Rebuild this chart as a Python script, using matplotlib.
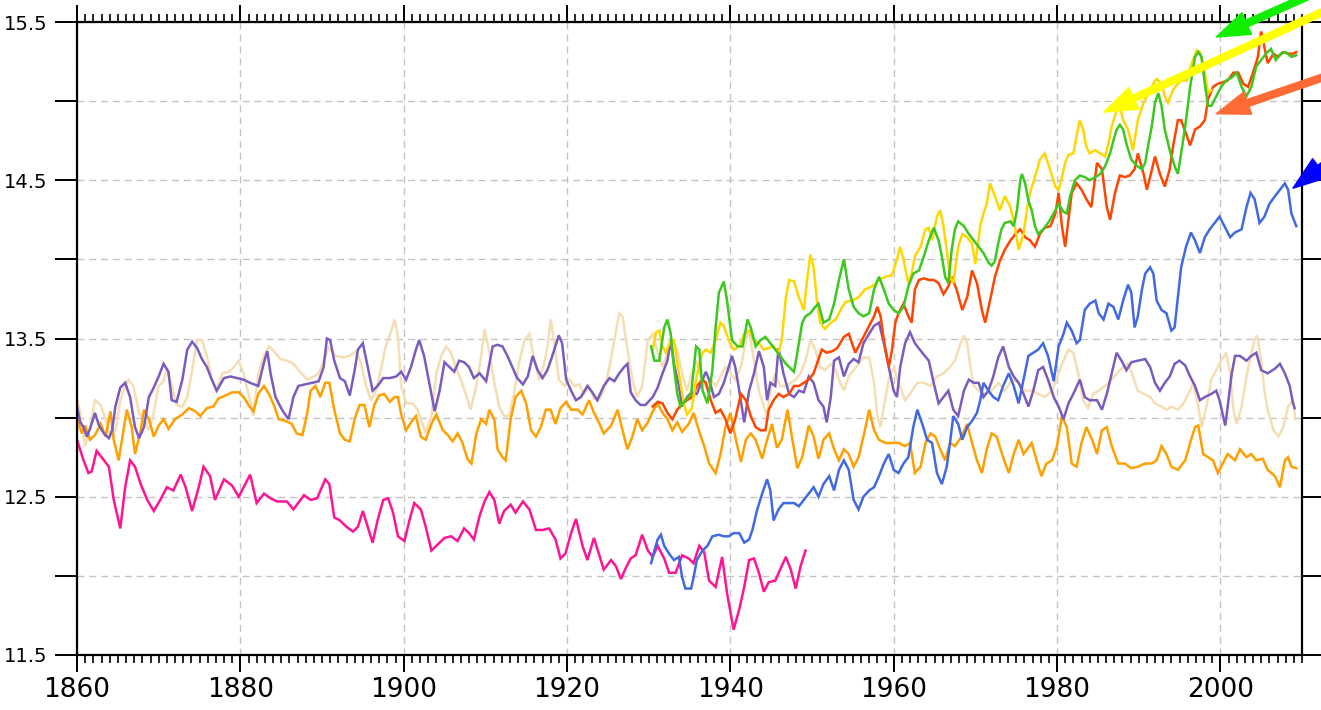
import matplotlib
matplotlib.use("Agg")
import matplotlib.pyplot as plt
from matplotlib.ticker import MultipleLocator, FixedLocator

# ---------------- data ----------------
pink_years = [1860.0,1860.8,1861.4,1861.8,1862.4,1863.3,1863.9,1864.5,1865.3,1865.9,1866.5,1867.1,1867.8,1868.6,1869.4,1870.2,1871.0,1871.8,1872.7,1873.3,1874.1,1874.9,1875.5,1876.3,1876.9,1878.0,1879.0,1879.8,1880.4,1881.2,1882.0,1882.9,1883.7,1884.5,1885.7,1886.5,1887.8,1888.6,1889.4,1890.4,1890.9,1891.5,
              1892.2,1893.0,1893.8,1894.4,1895.0,1895.6,1896.2,1896.8,1897.5,1898.1,1898.7,1899.3,1900.1,1900.7,1901.3,1902.1,1902.7,1903.4,1904.2,1905.0,1905.8,1906.6,1907.4,1908.0,1908.6,1909.3,1909.9,1910.5,1911.1,1911.7,1912.3,1913.1,1913.7,1914.6,1915.4,1916.2,1917.0,1917.8,1918.6,1919.2,1919.8,1920.5,1921.1,1921.9,1922.5,1923.3,
              1923.9,1924.5,1925.4,1926.0,1926.6,1927.2,1927.8,1928.4,1929.2,1929.9,1930.5,1931.1,1931.9,1932.5,1933.3,1934.1,1934.9,1935.5,1936.2,1936.8,1937.4,1938.2,1939.0,1939.6,1940.4,1941.1,1941.7,1942.3,1942.9,1943.5,1944.1,1944.7,1945.5,1946.1,1946.8,1947.4,1948.0,1948.6,1949.2]
pink_vals = [12.86,12.73,12.65,12.66,12.79,12.73,12.69,12.48,12.30,12.56,12.73,12.69,12.58,12.48,12.41,12.48,12.56,12.54,12.64,12.56,12.41,12.56,12.69,12.63,12.48,12.61,12.57,12.50,12.56,12.64,12.46,12.52,12.49,12.47,12.47,12.42,12.51,12.48,12.49,12.61,12.58,12.37,
             12.35,12.31,12.28,12.31,12.41,12.31,12.21,12.35,12.48,12.49,12.40,12.25,12.22,12.35,12.46,12.42,12.31,12.16,12.20,12.24,12.25,12.22,12.30,12.27,12.23,12.38,12.47,12.53,12.48,12.33,12.41,12.45,12.40,12.47,12.42,12.29,12.29,12.30,12.23,12.11,12.14,12.27,12.36,12.19,12.10,12.24,
             12.14,12.04,12.10,12.06,11.98,12.05,12.11,12.13,12.26,12.16,12.12,12.19,12.11,12.02,12.02,12.13,12.11,12.08,12.19,12.15,11.97,11.93,12.12,11.89,11.66,11.79,11.93,12.10,12.11,12.02,11.90,11.96,11.97,12.04,12.12,12.04,11.92,12.06,12.16]

orange_years = [1860.0,1860.6,1861.0,1861.6,1862.2,1862.9,1863.5,1864.1,1864.5,1865.1,1865.7,1866.1,1866.7,1867.1,1867.8,1868.2,1868.8,1869.4,1870.0,1870.6,1871.2,1872.0,1872.9,1873.7,1874.5,1875.1,1875.9,1876.7,1877.3,1878.2,1879.0,1879.8,1880.4,1881.0,1881.6,1882.2,1882.9,1883.5,1884.1,1884.7,1885.5,1886.3,1886.9,1887.6,1888.2,1888.6,1889.2,1889.8,1890.4,
                1890.9,1891.5,1892.2,1892.8,1893.4,1894.0,1894.6,1895.2,1895.8,1896.4,1897.0,1897.6,1898.3,1898.9,1899.3,1899.7,1900.3,1900.9,1901.5,1902.1,1902.7,1903.4,1904.0,1904.8,1905.4,1906.0,1906.6,1907.2,1907.8,1908.3,1908.9,1909.5,1910.1,1910.5,1911.1,1911.5,1912.1,1912.5,1913.1,1913.7,1914.4,1915.0,1915.6,1916.2,1916.8,1917.4,1918.0,1918.6,1919.2,1919.9,1920.5,1921.3,1921.9,1922.7,1923.3,
                1923.9,1924.5,1925.4,1926.2,1926.8,1927.4,1928.0,1928.6,1929.2,1929.9,1930.5,1931.1,1931.7,1932.3,1932.9,1933.5,1934.1,1934.9,1935.5,1936.2,1936.8,1937.4,1938.2,1938.8,1939.4,1940.0,1940.6,1941.3,1941.9,1942.5,1943.1,1943.9,1944.5,1945.1,1945.7,1946.3,1947.0,1947.6,1948.2,1948.8,1949.6,1950.2,1950.8,1951.4,1952.1,1952.7,
                1953.3,1953.9,1954.5,1955.1,1955.7,1956.3,1957.0,1957.6,1958.2,1959.0,1959.8,1960.6,1961.4,1962.0,1962.6,1963.3,1963.9,1964.5,1965.1,1965.7,1966.3,1966.9,1967.5,1968.3,1969.0,1969.6,1970.2,1970.8,1971.4,1972.0,1972.6,
                1973.4,1974.1,1974.7,1975.3,1975.9,1976.9,1977.5,1978.1,1978.7,1979.4,1980.0,1980.6,1981.2,1981.8,1982.4,1983.0,1983.6,1984.3,1984.9,1985.5,1986.1,1986.7,1987.5,1988.3,1989.1,1989.9,1990.8,1991.6,1992.2,1992.8,1993.4,1994.0,1994.8,1995.7,1996.3,1996.9,1997.3,1997.9,1998.5,1999.1,1999.7,2000.3,2000.9,2001.8,2002.4,2003.2,2003.8,2004.4,2005.2,2005.8,2006.7,2007.3,2007.9,2008.3,2008.7,2009.3]
orange_vals = [12.99,12.90,12.95,12.86,12.89,12.96,12.88,13.04,12.86,12.73,12.92,13.05,12.94,12.77,12.92,13.05,12.99,12.88,12.95,12.99,12.93,12.99,13.02,13.06,13.04,13.01,13.06,13.07,13.12,13.14,13.16,13.16,13.13,13.08,13.04,13.15,13.20,13.15,13.08,12.99,12.98,12.96,12.90,12.89,13.03,13.17,13.20,13.13,13.22,
               13.22,13.05,12.90,12.86,12.85,12.99,13.08,13.08,12.94,13.08,13.14,13.15,13.10,13.13,13.13,13.02,12.92,12.97,13.01,12.88,12.86,12.96,13.02,12.92,12.89,12.85,12.90,12.84,12.74,12.71,12.90,12.99,12.96,13.05,12.99,12.80,12.75,12.73,12.99,13.13,13.17,13.09,12.92,12.88,12.94,13.05,13.05,12.96,13.06,13.10,13.05,13.05,13.02,13.11,13.03,
               12.97,12.90,12.95,13.05,12.92,12.80,12.88,12.99,12.92,12.97,13.04,13.09,13.03,12.99,12.92,12.97,12.91,12.96,13.03,12.91,12.82,12.71,12.65,12.77,12.94,13.03,12.88,12.72,12.86,12.90,12.86,12.74,12.86,12.96,12.81,12.86,13.05,12.86,12.68,12.75,12.95,12.88,12.74,12.86,12.90,12.80,
               12.73,12.80,12.77,12.69,12.75,12.88,13.05,12.92,12.86,12.84,12.84,12.84,12.82,12.84,12.65,12.69,12.84,12.90,12.88,12.80,12.73,12.84,12.82,12.88,12.96,12.84,12.73,12.65,12.80,12.90,12.88,
               12.75,12.65,12.77,12.86,12.77,12.84,12.73,12.63,12.71,12.73,12.82,13.01,12.94,12.71,12.69,12.84,12.94,12.86,12.77,12.92,12.94,12.82,12.71,12.71,12.68,12.69,12.71,12.71,12.73,12.82,12.77,12.69,12.67,12.73,12.84,12.94,12.95,12.77,12.75,12.73,12.65,12.71,12.77,12.73,12.80,12.75,12.77,12.73,12.74,12.67,12.63,12.56,12.73,12.75,12.69,12.68]

purple_years = [1860.0,1860.4,1860.8,1861.2,1861.6,1862.2,1862.7,1863.3,1863.9,1864.3,1864.7,1865.3,1865.9,1866.5,1867.1,1867.6,1868.2,1868.8,1869.4,1870.0,1870.6,1871.2,1871.6,1872.2,1872.9,1873.5,1874.1,1874.7,1875.3,1875.9,1876.5,1877.1,1878.0,1878.8,1879.6,1880.4,1881.2,1882.2,1882.9,1883.3,1883.7,1884.3,1885.1,1885.9,1886.5,1887.1,1887.9,1888.8,1889.6,1890.2,1890.6,
                1891.0,1891.5,1892.2,1892.8,1893.4,1894.0,1894.4,1895.0,1895.6,1896.2,1896.8,1897.5,1898.3,1899.1,1899.7,1900.3,1900.9,1901.5,1901.9,1902.5,1903.2,1903.8,1904.4,1905.0,1905.6,1906.2,1906.8,1907.4,1908.0,1908.6,1909.3,1910.1,1910.9,1911.5,1912.1,1912.7,1913.3,1913.9,1914.6,1915.2,1915.8,1916.4,1917.0,1917.6,1918.2,1919.0,1919.4,1919.9,1920.5,1921.1,1921.7,1922.5,1923.1,1923.7,
                1924.5,1925.2,1925.8,1926.4,1927.0,1927.4,1927.8,1928.4,1929.0,1929.6,1930.5,1931.1,1931.7,1932.3,1932.7,1933.1,1933.7,1934.1,1934.7,1935.3,1935.9,1936.6,1937.0,1937.4,1938.0,1938.6,1939.2,1939.8,1940.2,1940.6,1941.0,1941.7,1942.3,1942.9,1943.5,1944.1,1944.5,1944.9,1945.5,1945.9,1946.5,1947.2,1947.8,1948.4,1949.0,1949.6,1950.2,1950.8,1951.4,1951.8,1952.3,1952.7,
                1953.3,1953.9,1954.5,1955.1,1955.7,1956.3,1957.0,1957.6,1958.2,1958.8,1959.4,1960.0,1960.4,1960.8,1961.4,1962.0,1962.6,1963.5,1964.3,1964.9,1965.5,1966.1,1966.7,1967.3,1967.9,1968.6,1969.2,1969.8,1970.4,1971.0,1971.6,1972.2,1972.8,
                1973.4,1974.1,1974.7,1975.3,1975.9,1976.5,1977.1,1977.7,1978.3,1978.9,1979.6,1980.2,1980.8,1981.4,1982.0,1982.8,1983.4,1984.0,1984.9,1985.5,1986.1,1986.7,1987.3,1987.9,1988.5,1989.1,1989.9,1990.8,1991.4,1992.0,1992.6,1993.2,1993.8,1994.4,1995.0,1995.7,1996.3,1996.9,1997.5,1998.1,1998.9,1999.5,1999.9,2000.6,2000.9,2001.4,2001.8,2002.4,2003.2,2003.8,2004.4,2005.0,2005.8,2006.7,2007.3,2007.9,2008.5,2008.9,2009.1]
purple_vals = [13.07,12.97,12.94,12.88,12.93,13.03,12.95,12.90,12.87,12.92,13.07,13.19,13.22,13.13,12.94,12.87,12.94,13.13,13.19,13.26,13.34,13.29,13.11,13.10,13.24,13.43,13.48,13.44,13.37,13.32,13.24,13.17,13.25,13.26,13.25,13.24,13.22,13.20,13.35,13.42,13.28,13.13,13.05,12.99,13.13,13.20,13.21,13.22,13.23,13.32,13.50,
               13.49,13.36,13.25,13.23,13.14,13.30,13.43,13.47,13.32,13.17,13.20,13.25,13.25,13.26,13.29,13.24,13.32,13.43,13.49,13.39,13.20,13.04,13.17,13.35,13.32,13.29,13.36,13.35,13.32,13.25,13.28,13.23,13.45,13.46,13.45,13.39,13.32,13.25,13.21,13.26,13.39,13.30,13.25,13.30,13.39,13.52,13.47,13.24,13.17,13.11,13.13,13.20,13.16,13.11,
               13.20,13.25,13.23,13.28,13.32,13.34,13.16,13.11,13.08,13.08,13.13,13.19,13.28,13.36,13.49,13.34,13.20,13.07,13.13,13.16,13.15,13.24,13.29,13.24,13.13,13.15,13.22,13.32,13.39,13.32,13.20,12.97,13.17,13.28,13.42,13.32,13.11,13.22,13.20,13.44,13.28,13.15,13.13,13.17,13.16,13.26,13.22,13.11,13.07,12.97,13.13,13.36,
               13.38,13.26,13.34,13.37,13.35,13.47,13.53,13.58,13.60,13.47,13.32,13.17,13.13,13.32,13.47,13.54,13.47,13.41,13.36,13.22,13.09,13.13,13.17,13.05,13.01,13.17,13.24,13.22,13.22,13.13,13.17,13.26,13.38,
               13.45,13.32,13.26,13.22,13.15,13.07,13.17,13.30,13.32,13.24,13.13,13.07,12.99,13.09,13.15,13.24,13.13,13.11,13.11,13.05,13.15,13.28,13.41,13.36,13.30,13.35,13.36,13.37,13.32,13.22,13.17,13.22,13.26,13.34,13.36,13.33,13.26,13.20,13.11,13.13,13.15,13.17,13.11,12.95,13.07,13.28,13.39,13.39,13.36,13.39,13.41,13.30,13.28,13.31,13.34,13.28,13.20,13.09,13.06]

wheat_years = [1860.0,1860.4,1861.0,1861.6,1862.2,1862.9,1863.5,1864.1,1864.7,1865.3,1865.9,1866.3,1866.9,1867.6,1868.2,1868.8,1869.4,1870.0,1870.6,1871.0,1871.6,1872.2,1872.9,1873.5,1874.1,1874.7,1875.3,1875.9,1876.5,1877.1,1877.8,1878.6,1879.2,1879.8,1880.4,1881.0,1881.6,1882.2,1882.9,1883.5,1884.1,1884.9,1885.7,1886.5,1887.3,1888.2,1889.0,1889.6,1890.2,1890.8,
               1891.7,1892.6,1893.4,1894.2,1894.8,1895.4,1896.0,1896.6,1897.2,1897.8,1898.5,1898.9,1899.3,1899.7,1900.3,1901.1,1901.7,1902.3,1902.7,1903.4,1904.0,1904.6,1905.2,1905.8,1906.4,1907.0,1907.6,1908.2,1908.9,1909.5,1909.9,1910.5,1911.1,1911.7,1912.3,1912.9,1913.5,1914.1,1914.8,1915.4,1916.0,1916.6,1917.2,1917.6,1918.0,1918.4,1919.0,1919.7,1920.3,1920.9,1921.5,1922.1,1922.7,1923.3,
               1923.9,1924.5,1925.2,1925.8,1926.4,1926.8,1927.4,1928.0,1928.6,1929.2,1929.9,1930.5,1931.1,1931.7,1932.3,1932.9,1933.5,1934.1,1934.7,1935.3,1935.9,1936.4,1937.0,1937.6,1938.2,1938.8,1939.4,1940.0,1940.6,1941.3,1941.9,1942.3,1942.9,1943.5,1944.1,1944.5,1944.9,1945.5,1946.1,1946.8,1947.4,1948.0,1948.6,1949.2,1949.8,1950.4,1951.0,1951.6,1952.3,1952.9,
               1953.3,1953.9,1954.5,1955.1,1955.7,1956.3,1957.0,1957.6,1958.0,1958.4,1958.8,1959.4,1960.0,1960.6,1961.4,1962.0,1962.9,1963.7,1964.5,1965.3,1966.1,1966.9,1967.5,1968.2,1968.6,1969.0,1969.4,1969.8,1970.4,1971.2,1972.0,1972.8,1973.6,1974.5,1975.3,1976.1,1976.9,1977.7,1978.5,1979.4,
               1980.2,1980.8,1981.4,1982.0,1982.6,1983.2,1983.8,1984.4,1985.1,1985.9,1986.7,1987.5,1988.1,1988.7,1989.3,1989.9,1990.6,1991.4,1992.0,1992.8,1993.4,1994.0,1994.8,1995.5,1996.1,1996.7,1997.3,1997.7,1998.3,1998.9,1999.5,2000.1,2000.7,2001.2,2001.6,2002.0,2002.6,2003.2,2003.8,2004.2,2004.5,2005.0,2005.4,2005.8,2006.5,2007.1,2007.7,2008.3,2008.9,2009.2]
wheat_vals = [13.12,13.03,12.82,12.94,13.11,13.08,12.99,12.88,12.92,13.11,13.20,13.24,13.20,13.03,12.99,12.92,13.03,13.20,13.23,13.30,13.20,13.08,13.07,13.13,13.30,13.49,13.49,13.39,13.25,13.17,13.28,13.29,13.32,13.36,13.28,13.15,13.01,13.28,13.39,13.45,13.42,13.37,13.36,13.34,13.29,13.24,13.26,13.28,13.36,13.44,
              13.39,13.38,13.39,13.42,13.34,13.20,13.11,13.17,13.30,13.45,13.55,13.62,13.51,13.20,13.09,13.09,13.05,12.96,12.90,13.01,13.28,13.39,13.45,13.41,13.32,13.24,13.15,13.05,13.20,13.39,13.56,13.41,13.22,13.07,13.01,13.01,13.15,13.34,13.49,13.53,13.36,13.24,13.34,13.45,13.62,13.49,13.24,13.20,13.24,13.20,13.21,13.15,13.20,13.12,
              13.11,13.17,13.32,13.49,13.66,13.64,13.43,13.24,13.13,13.20,13.49,13.53,13.41,13.32,13.41,13.49,13.43,13.28,13.17,13.28,13.36,13.24,13.20,13.24,13.20,13.26,13.32,13.28,13.24,13.32,13.49,13.55,13.36,13.17,13.07,13.01,13.17,13.28,13.20,13.20,13.22,13.24,13.28,13.36,13.49,13.43,13.32,13.30,13.34,13.30,
              13.24,13.17,13.26,13.30,13.34,13.38,13.38,13.22,13.01,12.94,13.07,13.24,13.32,13.22,13.11,13.15,13.22,13.22,13.20,13.26,13.28,13.32,13.36,13.47,13.52,13.47,13.32,13.20,13.17,13.15,13.17,13.22,13.17,13.24,13.22,13.17,13.17,13.15,13.13,13.17,
              13.28,13.36,13.43,13.41,13.28,13.11,13.06,13.15,13.17,13.20,13.24,13.29,13.32,13.34,13.26,13.17,13.15,13.13,13.09,13.07,13.05,13.07,13.05,13.09,13.15,13.22,13.07,12.94,13.07,13.24,13.30,13.36,13.41,13.28,13.05,12.96,13.07,13.26,13.41,13.49,13.52,13.36,13.17,13.05,12.92,12.88,12.94,13.07,13.11,12.99]

blue_years = [1930.3,1930.7,1931.1,1931.5,1931.9,1932.5,1933.1,1933.7,1934.1,1934.5,1935.2,1935.5,1935.9,1936.6,1937.2,1937.8,1938.6,1939.2,1939.8,1940.4,1941.1,1941.7,1942.3,1942.7,1943.3,1943.9,1944.5,1944.9,1945.3,1945.9,1946.5,1947.2,1947.8,1948.4,1949.0,1949.6,1950.2,1950.8,1951.4,1952.1,1952.7,
              1953.3,1953.9,1954.5,1955.1,1955.7,1956.3,1957.0,1957.6,1958.2,1958.8,1959.4,1960.0,1960.6,1961.2,1961.8,1962.4,1962.9,1963.5,1964.1,1964.7,1965.3,1965.9,1966.5,1966.9,1967.3,1967.9,1968.4,1969.0,1969.6,1970.2,1970.6,1971.0,1971.6,1972.2,
              1972.8,1973.4,1974.1,1974.7,1975.3,1975.9,1976.5,1977.1,1977.7,1978.3,1978.9,1979.6,1980.2,1980.8,1981.2,1981.8,1982.4,1982.8,1983.4,1984.0,1984.7,1985.1,1985.7,1986.3,1986.9,1987.5,1988.1,1988.7,1989.1,1989.5,1989.9,1990.4,1990.8,1991.4,1991.8,1992.2,1992.8,1993.4,1994.0,1994.4,1994.8,1995.2,
              1995.8,1996.4,1996.9,1997.5,1998.1,1998.7,1999.3,1999.9,2000.5,2001.2,2001.8,2002.6,2003.2,2003.7,2004.2,2004.8,2005.4,2006.0,2006.7,2007.3,2007.9,2008.3,2008.7,2009.3]
blue_vals = [12.08,12.16,12.23,12.26,12.19,12.14,12.10,12.12,11.99,11.92,11.92,11.99,12.10,12.16,12.19,12.25,12.26,12.25,12.25,12.27,12.27,12.21,12.23,12.29,12.42,12.52,12.61,12.54,12.35,12.42,12.46,12.46,12.46,12.44,12.48,12.52,12.56,12.50,12.58,12.63,12.54,
             12.67,12.73,12.67,12.48,12.42,12.50,12.54,12.56,12.63,12.71,12.77,12.67,12.65,12.71,12.75,12.94,13.05,12.96,12.86,12.84,12.65,12.58,12.69,12.84,13.01,12.96,12.86,12.94,12.98,13.03,13.11,13.22,13.17,13.13,
             13.11,13.20,13.28,13.20,13.09,13.24,13.39,13.41,13.43,13.47,13.39,13.23,13.45,13.53,13.60,13.55,13.47,13.49,13.68,13.72,13.74,13.66,13.62,13.72,13.70,13.62,13.74,13.84,13.79,13.57,13.64,13.81,13.91,13.95,13.91,13.74,13.68,13.66,13.55,13.57,13.76,13.95,
             14.08,14.17,14.12,14.04,14.14,14.19,14.23,14.27,14.21,14.14,14.17,14.19,14.33,14.42,14.38,14.23,14.27,14.35,14.40,14.44,14.48,14.44,14.29,14.21]

red_years = [1930.5,1931.1,1931.7,1932.3,1932.9,1933.5,1934.1,1934.7,1935.3,1935.9,1936.6,1937.0,1937.6,1938.2,1938.8,1939.4,1940.0,1940.6,1941.3,1941.9,1942.5,1943.1,1943.7,1944.3,1944.7,1945.3,1945.9,1946.5,1947.2,1947.8,1948.4,1949.0,1949.6,1950.2,1950.6,1951.2,1951.8,1952.5,1953.1,
             1953.9,1954.5,1954.9,1955.3,1955.7,1956.3,1957.0,1957.6,1958.0,1958.4,1958.8,1959.4,1959.8,1960.2,1960.6,1961.2,1961.8,1962.2,1962.6,1963.1,1963.7,1964.3,1964.9,1965.5,1966.1,1966.7,1967.1,1967.7,1968.4,1969.0,1969.6,1970.2,1970.8,1971.2,1971.8,1972.4,1973.0,1973.6,1974.3,1974.9,1975.5,1976.1,1976.7,1977.3,1977.9,1978.5,1979.2,1979.8,
             1980.2,1980.6,1981.0,1981.4,1981.8,1982.4,1983.0,1983.6,1984.2,1984.9,1985.5,1986.1,1986.5,1987.1,1987.7,1988.3,1988.9,1989.5,1989.9,1990.6,1991.0,1991.4,1992.0,1992.6,1993.2,1993.8,1994.2,1994.8,1995.2,1995.9,1996.3,1996.9,1997.5,1998.1,1998.5,1999.1,1999.7,2000.3,2000.9,2001.6,2002.2,2002.8,2003.4,2004.0,2004.6,2005.0,2005.4,2005.8,2006.5,2007.1,2007.7,2008.3,2008.9,2009.3]
red_vals = [13.07,13.10,13.09,13.03,12.99,13.05,13.09,13.11,13.13,13.20,13.24,13.22,13.11,13.03,13.05,12.99,12.90,12.99,13.15,13.11,13.01,12.94,12.92,12.92,13.05,13.11,13.15,13.13,13.15,13.20,13.20,13.22,13.24,13.28,13.34,13.43,13.41,13.42,13.44,
            13.51,13.53,13.47,13.41,13.45,13.51,13.58,13.64,13.70,13.64,13.49,13.32,13.43,13.60,13.66,13.72,13.64,13.60,13.81,13.87,13.88,13.87,13.87,13.85,13.78,13.83,13.89,13.81,13.68,13.76,13.93,13.85,13.68,13.60,13.74,13.89,13.99,14.06,14.12,14.16,14.19,14.14,14.12,14.08,14.16,14.20,14.21,14.29,
            14.42,14.21,14.08,14.25,14.42,14.48,14.44,14.38,14.33,14.61,14.57,14.33,14.25,14.42,14.53,14.52,14.53,14.57,14.67,14.54,14.44,14.52,14.65,14.54,14.46,14.57,14.71,14.88,14.88,14.78,14.72,14.82,14.84,14.88,15.01,15.09,15.11,15.12,15.13,15.18,15.18,15.11,15.09,15.18,15.28,15.44,15.34,15.24,15.30,15.28,15.31,15.30,15.30,15.31]

green_years = [1930.3,1930.7,1931.3,1931.9,1932.3,1932.7,1933.1,1933.5,1933.9,1934.5,1935.2,1935.8,1936.2,1936.6,1937.2,1937.8,1938.2,1938.6,1939.2,1939.6,1940.2,1940.9,1941.5,1942.1,1942.5,1943.1,1943.7,1944.3,1944.9,1945.5,1946.1,1946.8,1947.4,1947.8,1948.2,1948.8,1949.2,1949.8,1950.4,1950.8,1951.4,1952.1,1952.7,1953.3,
               1953.9,1954.5,1955.1,1955.7,1956.3,1957.0,1957.6,1958.2,1958.8,1959.4,1960.0,1960.6,1961.2,1961.8,1962.4,1963.1,1963.7,1964.3,1964.9,1965.5,1965.9,1966.3,1966.7,1967.1,1967.5,1967.9,1968.6,1969.2,1969.8,1970.4,1971.0,1971.6,1972.0,1972.4,1972.8,1973.2,1973.6,1974.3,1974.7,1975.1,1975.5,1975.7,1976.1,1976.5,1976.9,1977.3,1977.7,1978.3,1978.9,1979.6,
               1980.2,1980.8,1981.2,1981.6,1982.2,1982.8,1983.4,1984.0,1984.7,1985.3,1985.9,1986.5,1986.9,1987.3,1987.7,1988.1,1988.5,1989.1,1989.8,1990.4,1990.8,1991.2,1991.6,1992.0,1992.4,1992.8,1993.2,1993.8,1994.4,1994.8,1995.2,1995.7,1996.3,1996.9,1997.3,1997.7,1998.1,1998.5,1998.9,1999.5,2000.1,2000.7,2001.4,2002.0,2002.6,2003.2,2003.8,2004.4,2005.0,2005.6,2006.2,2006.8,2007.4,2008.0,2008.7,2009.3]
green_vals = [13.45,13.36,13.36,13.57,13.62,13.53,13.32,13.15,13.07,13.11,13.15,13.45,13.43,13.17,13.09,13.30,13.57,13.79,13.86,13.74,13.49,13.45,13.45,13.62,13.57,13.45,13.49,13.51,13.47,13.43,13.39,13.34,13.31,13.29,13.41,13.60,13.64,13.66,13.70,13.72,13.60,13.62,13.72,13.87,
              14.00,13.81,13.70,13.66,13.64,13.66,13.81,13.89,13.81,13.72,13.68,13.66,13.70,13.83,13.91,13.93,14.02,14.12,14.20,14.12,14.02,13.89,13.85,14.06,14.19,14.24,14.21,14.16,14.12,14.08,14.04,13.98,13.96,13.99,14.10,14.19,14.23,14.24,14.21,14.31,14.50,14.54,14.48,14.37,14.31,14.21,14.16,14.19,14.23,14.29,
              14.35,14.30,14.29,14.40,14.50,14.53,14.52,14.50,14.52,14.54,14.59,14.67,14.75,14.82,14.85,14.82,14.73,14.63,14.59,14.57,14.61,14.73,14.84,14.99,15.05,14.97,14.82,14.69,14.59,14.54,14.67,14.84,15.09,15.28,15.31,15.28,15.11,14.97,14.97,15.03,15.09,15.13,15.15,15.18,15.09,15.03,15.09,15.22,15.26,15.30,15.33,15.26,15.30,15.31,15.28,15.29]

yellow_years = [1930.5,1930.9,1931.3,1931.7,1932.1,1932.7,1933.1,1933.7,1934.3,1934.7,1935.3,1935.8,1936.2,1936.6,1937.0,1937.6,1938.2,1938.8,1939.2,1939.8,1940.4,1941.1,1941.7,1942.3,1942.9,1943.5,1944.1,1944.7,1945.3,1945.9,1946.3,1946.8,1947.2,1947.8,1948.4,1949.0,1949.4,1949.8,1950.2,1950.6,1951.0,1951.6,1952.3,1952.9,1953.7,
                1954.1,1954.9,1955.7,1956.5,1957.4,1958.2,1959.0,1959.8,1960.4,1960.8,1961.2,1961.8,1962.2,1962.6,1963.3,1963.9,1964.3,1964.7,1965.3,1965.7,1966.1,1966.5,1966.9,1967.3,1967.9,1968.4,1969.0,1969.6,1970.0,1970.6,1971.0,1971.4,1971.8,1972.4,1973.0,1973.6,1974.3,1974.9,1975.3,1975.9,1976.3,1976.7,1977.3,1977.9,1978.5,1979.2,1979.8,1980.2,
                1980.6,1981.0,1981.4,1982.0,1982.4,1982.8,1983.2,1983.6,1984.0,1984.7,1985.3,1985.9,1986.3,1986.7,1987.3,1987.7,1988.1,1988.7,1989.3,1989.9,1990.6,1991.2,1991.8,1992.2,1992.8,1993.2,1993.6,1994.2,1994.8,1995.2,1995.9,1996.5,1997.1,1997.5,1998.1,1998.5,1998.9]
yellow_vals = [13.43,13.54,13.55,13.45,13.41,13.49,13.49,13.28,13.09,13.02,13.06,13.24,13.34,13.41,13.43,13.41,13.49,13.60,13.58,13.49,13.43,13.45,13.53,13.55,13.49,13.47,13.43,13.44,13.45,13.41,13.49,13.76,13.87,13.86,13.76,13.68,13.87,14.03,13.95,13.74,13.60,13.56,13.60,13.62,13.70,
               13.73,13.74,13.76,13.81,13.83,13.87,13.89,13.90,14.00,14.08,14.00,13.85,13.91,14.02,14.08,14.19,14.20,14.12,14.27,14.31,14.21,14.06,13.89,13.85,14.08,14.16,14.14,14.10,13.97,14.21,14.29,14.35,14.48,14.40,14.31,14.40,14.33,14.19,14.06,14.16,14.31,14.42,14.52,14.63,14.67,14.56,14.46,14.44,
               14.52,14.61,14.66,14.67,14.78,14.88,14.82,14.71,14.67,14.69,14.67,14.65,14.73,14.84,14.94,14.97,14.88,14.82,14.69,14.88,14.99,15.05,15.11,15.14,15.11,15.03,14.99,15.07,15.11,15.13,15.13,15.24,15.32,15.31,15.18,15.05,15.07]

# arrows: tip (year, value), tail (figure fraction) and colour
arrow_tips = [(1999.5, 15.405), (1985.7, 14.93), (1999.5, 14.92), (2008.9, 14.45)]
arrow_tails = [(1.0144, 1.0254), (1.0144, 0.9944), (1.0144, 0.8993), (1.0144, 0.7845)]
arrow_colors = ['#11ee00', '#ffff00', '#ff6a35', '#0000ff']

x_ticks = [1860, 1880, 1900, 1920, 1940, 1960, 1980, 2000]
y_ticks = [11.5, 12.0, 12.5, 13.0, 13.5, 14.0, 14.5, 15.0, 15.5]
y_labels = ['11.5', '', '12.5', '', '13.5', '', '14.5', '', '15.5']

# ---------------- figure ----------------
fig = plt.figure(figsize=(13.21, 7.10), dpi=100)
ax = fig.add_axes([77/1321, 55/710, 1225/1321, 633/710])

series = [
    (wheat_years, wheat_vals, '#f5deb3'),
    (orange_years, orange_vals, '#ffa000'),
    (purple_years, purple_vals, '#7a5cbf'),
    (pink_years, pink_vals, '#ff1493'),
    (blue_years, blue_vals, '#4169e1'),
    (red_years, red_vals, '#ff4500'),
    (yellow_years, yellow_vals, '#ffd700'),
    (green_years, green_vals, '#3cc81e'),
]
for xs, ys, c in series:
    ax.plot(xs, ys, color=c, lw=1.8, solid_joinstyle='miter')

ax.set_xlim(1860, 2010)
ax.set_ylim(11.5, 15.5)

ax.xaxis.set_major_locator(FixedLocator(x_ticks))
ax.xaxis.set_minor_locator(MultipleLocator(1))
ax.set_xticks(x_ticks)
ax.set_xticklabels([str(v) for v in x_ticks])
ax.set_yticks(y_ticks)
ax.set_yticklabels(y_labels)

ax.grid(True, which='major', color='#c4c4c4', linestyle=(0, (5, 3.5)), linewidth=1.0)
ax.set_axisbelow(True)

for sp in ax.spines.values():
    sp.set_linewidth(1.6)
    sp.set_color('black')

ax.tick_params(axis='x', which='major', direction='out', length=12, width=1.4,
               top=True, bottom=True, labelsize=19, pad=4)
ax.tick_params(axis='x', which='minor', direction='out', length=6, width=1.2,
               top=True, bottom=True)
ax.tick_params(axis='y', which='major', direction='out', length=16, width=1.4,
               left=True, right=True, labelsize=14, pad=5)

for tip, tail, c in zip(arrow_tips, arrow_tails, arrow_colors):
    ax.annotate('', xy=tip, xycoords='data', xytext=tail, textcoords='figure fraction',
                annotation_clip=False,
                arrowprops=dict(arrowstyle='simple,head_length=2.4,head_width=1.7,tail_width=0.5',
                                color=c, shrinkA=0, shrinkB=0, mutation_scale=10,
                                clip_on=False), zorder=10)

fig.savefig('out.png', dpi=100)
